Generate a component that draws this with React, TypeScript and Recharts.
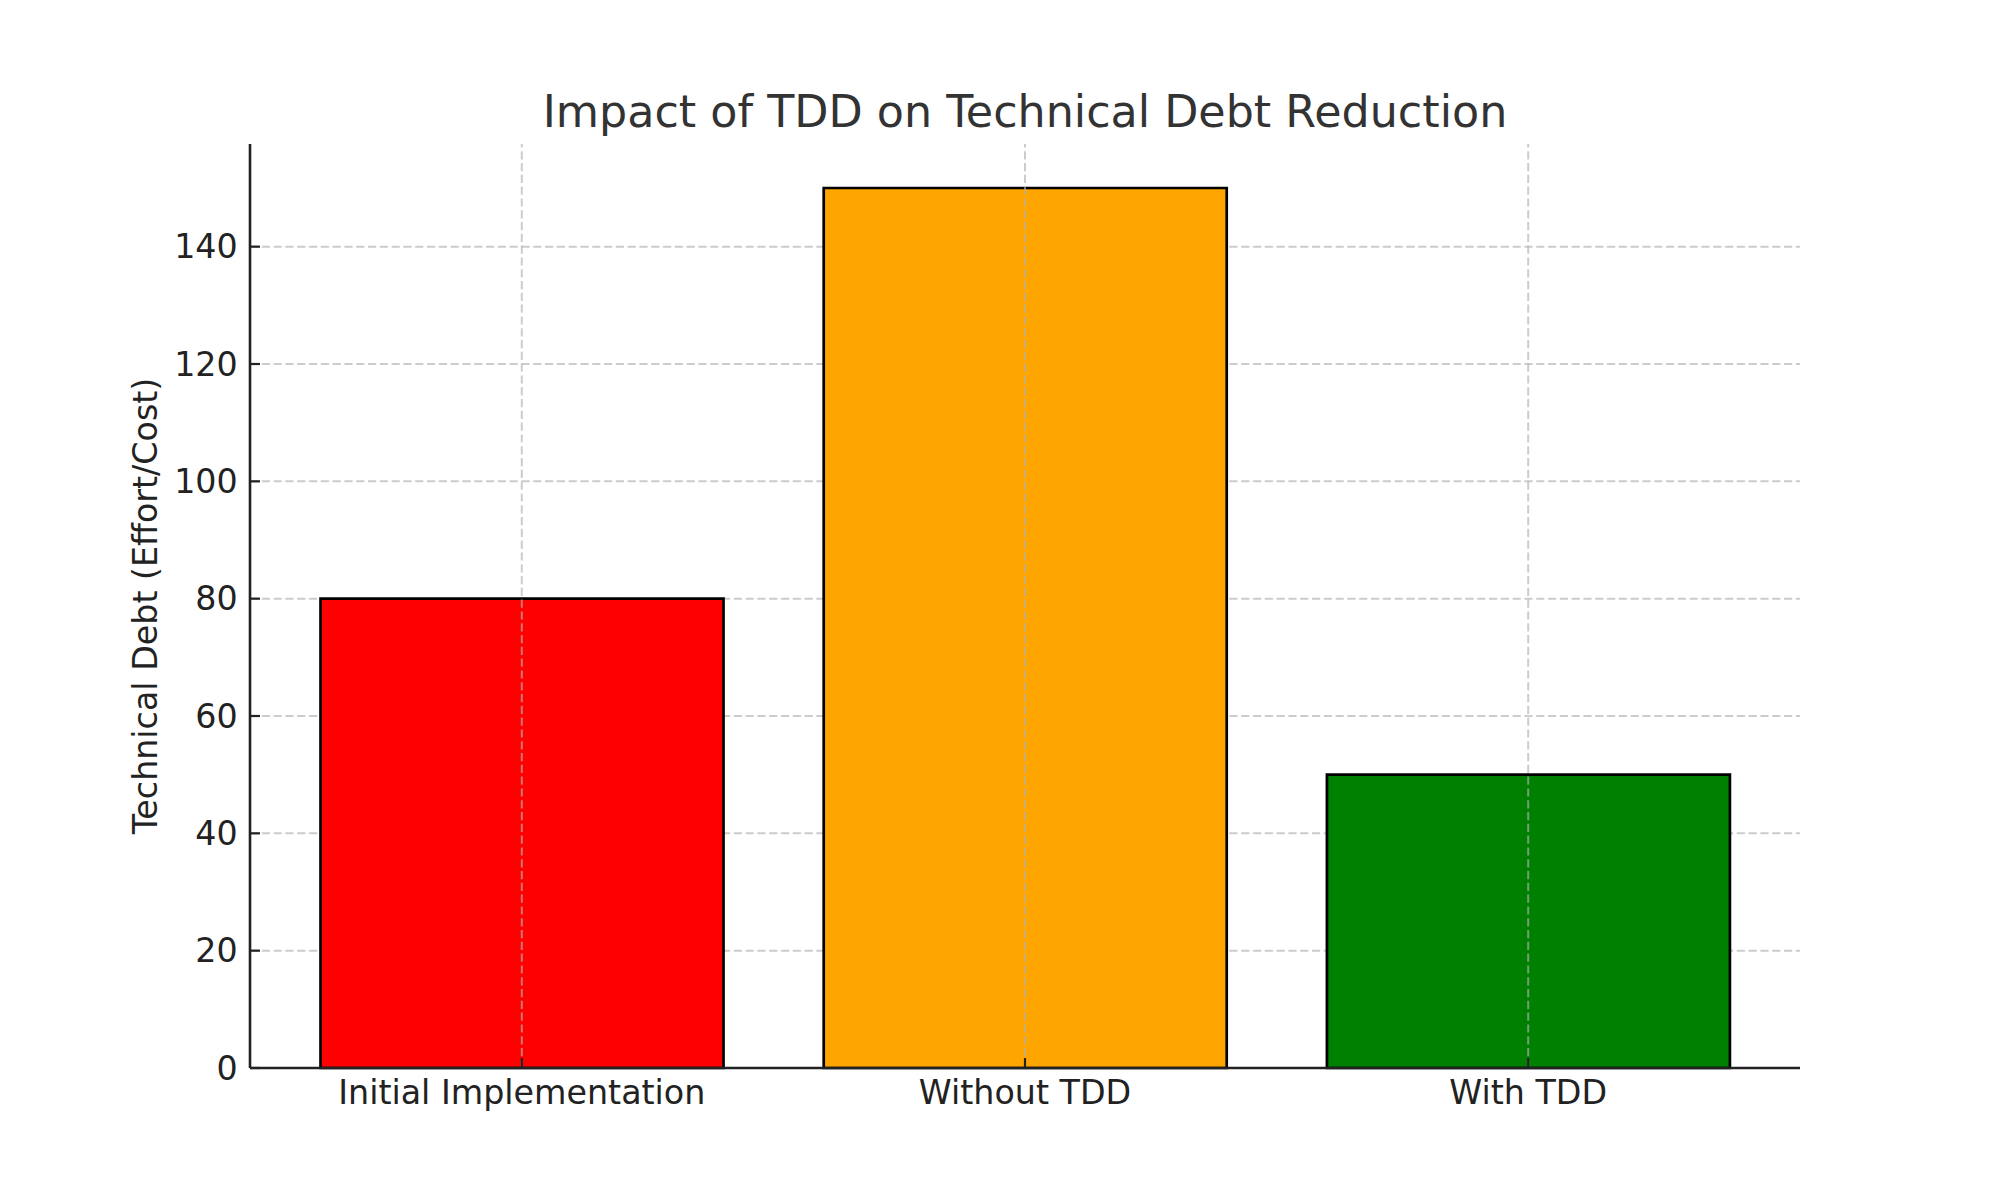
import React from 'react';
import { Bar, BarChart, CartesianGrid, Cell, ReferenceLine, XAxis, YAxis } from 'recharts';

const categories = ['Initial Implementation', 'Without TDD', 'With TDD'];
const debtValues = [80, 150, 50];
const barColors = ['#ff0000', '#ffa500', '#008000'];
const yTicks = [0, 20, 40, 60, 80, 100, 120, 140];

const chartTitle = 'Impact of TDD on Technical Debt Reduction';
const yAxisTitle = 'Technical Debt (Effort/Cost)';

const FONT = '"DejaVu Sans", sans-serif';
const TEXT_COLOR = '#222222';
const GRID_COLOR = '#b0b0b0';

const data = categories.map((name, i) => ({ name, debt: debtValues[i] }));

function YTitle(props: any) {
  const vb = props.viewBox ?? { x: 0, y: 144, width: 250, height: 924 };
  const x = vb.x + 157;
  const y = vb.y + vb.height / 2;
  return (
    <text
      x={x}
      y={y}
      transform={`rotate(-90 ${x} ${y})`}
      textAnchor="middle"
      fontSize={33.3}
      fontFamily={FONT}
      fill={TEXT_COLOR}
    >
      {yAxisTitle}
    </text>
  );
}

export default function App() {
  return (
    <div
      style={{
        position: 'absolute',
        left: 0,
        top: 0,
        width: 2000,
        height: 1200,
        background: '#ffffff',
        fontFamily: FONT,
      }}
    >
      <BarChart
        width={2000}
        height={1200}
        data={data}
        margin={{ top: 144, right: 200, bottom: 72, left: 0 }}
        barCategoryGap="10%"
      >
        <CartesianGrid
          horizontal
          vertical={false}
          horizontalValues={yTicks}
          stroke={GRID_COLOR}
          strokeOpacity={0.65}
          strokeWidth={2}
          strokeDasharray="8.2 3.6"
        />
        <XAxis
          dataKey="name"
          type="category"
          height={60}
          padding={{ left: 20.2, right: 20.2 }}
          axisLine={{ stroke: TEXT_COLOR, strokeWidth: 2.6 }}
          tickLine={{ stroke: TEXT_COLOR, strokeWidth: 2.2 }}
          tickSize={-10}
          tickMargin={22.4}
          tick={{ fontSize: 33.3, fill: TEXT_COLOR, fontFamily: FONT }}
          interval={0}
        />
        <YAxis
          type="number"
          width={250}
          domain={[0, 157.5]}
          ticks={yTicks}
          axisLine={{ stroke: TEXT_COLOR, strokeWidth: 2.6 }}
          tickLine={{ stroke: TEXT_COLOR, strokeWidth: 2.2 }}
          tickSize={-10}
          tickMargin={22.3}
          tick={{ fontSize: 33.3, fill: TEXT_COLOR, fontFamily: FONT }}
          label={<YTitle />}
        />
        <Bar dataKey="debt" stroke="#000000" strokeWidth={2.7} isAnimationActive={false}>
          {data.map((entry, i) => (
            <Cell key={entry.name} fill={barColors[i]} />
          ))}
        </Bar>
        {categories.map((name) => (
          <ReferenceLine
            key={`vgrid-${name}`}
            x={name}
            stroke={GRID_COLOR}
            strokeOpacity={0.65}
            strokeWidth={2}
            strokeDasharray="8.2 3.6"
          />
        ))}
      </BarChart>
      <svg
        width={2000}
        height={1200}
        style={{ position: 'absolute', left: 0, top: 0, pointerEvents: 'none' }}
      >
        <text x={1025} y={127} textAnchor="middle" fontSize={44.4} fontFamily={FONT} fill="#333333">
          {chartTitle}
        </text>
      </svg>
    </div>
  );
}
